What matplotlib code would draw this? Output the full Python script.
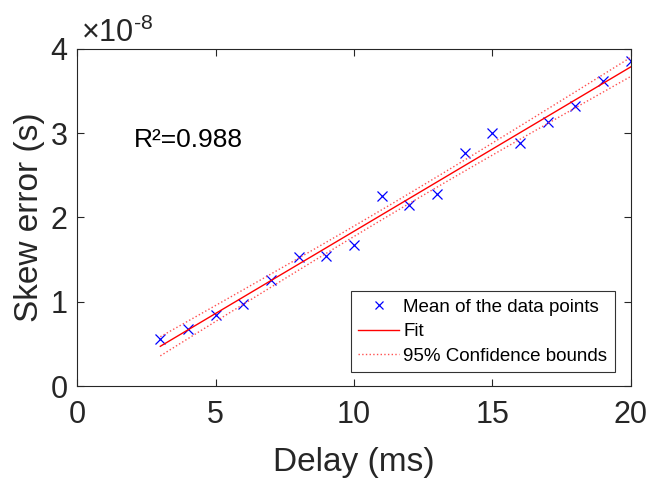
import numpy as np
import matplotlib
matplotlib.use("Agg")
import matplotlib.pyplot as plt
from matplotlib.ticker import FuncFormatter

plt.rcParams['font.family'] = ['Liberation Sans', 'DejaVu Sans']
plt.rcParams['mathtext.fontset'] = 'custom'
plt.rcParams['mathtext.rm'] = 'Liberation Sans'
plt.rcParams['mathtext.it'] = 'Liberation Sans'

delay_ms = [3, 4, 5, 6, 7, 8, 9, 10, 11, 12, 13, 14, 15, 16, 17, 18, 19, 20]
skew_s = [0.558e-8, 0.677e-8, 0.843e-8, 0.973e-8, 1.258e-8, 1.531e-8, 1.543e-8,
          1.674e-8, 2.255e-8, 2.148e-8, 2.279e-8, 2.766e-8, 3.003e-8, 2.884e-8,
          3.134e-8, 3.323e-8, 3.620e-8, 3.858e-8]
r2_label = "R²=0.988"
x_ticks = [0, 5, 10, 15, 20]
y_ticks = [0, 1e-8, 2e-8, 3e-8, 4e-8]

x = np.array(delay_ms, dtype=float)
y = np.array(skew_s)

# linear fit and 95% confidence bounds of the fitted line
p = np.polyfit(x, y, 1)
n = len(x)
yhat = np.polyval(p, x)
s = np.sqrt(np.sum((y - yhat) ** 2) / (n - 2))
t_crit = 2.120  # t(0.975, 16)
xf = np.linspace(x.min(), x.max(), 100)
yf = np.polyval(p, xf)
se = s * np.sqrt(1.0 / n + (xf - x.mean()) ** 2 / np.sum((x - x.mean()) ** 2))
lo = yf - t_crit * se
hi = yf + t_crit * se

fig = plt.figure(figsize=(6.55, 4.83), dpi=100)
ax = fig.add_axes([0.118, 0.2008, 0.845, 0.6978])

ax.plot(x, y, 'x', color='blue', markersize=7, markeredgewidth=0.9,
        label='Mean of the data points')
ax.plot(xf, yf, '-', color='red', linewidth=1.0, label='Fit')
ax.plot(xf, lo, ':', color='#ff5050', linewidth=1.0,
        label='95% Confidence bounds')
ax.plot(xf, hi, ':', color='#ff5050', linewidth=1.0)

ax.set_xlim(0, 20)
ax.set_ylim(0, 4e-8)
ax.set_xticks(x_ticks)
ax.set_yticks(y_ticks)
ax.yaxis.set_major_formatter(FuncFormatter(lambda v, pos: f"{v/1e-8:g}"))
ax.tick_params(direction='in', top=True, right=True, length=5, width=0.8,
               labelsize=22, colors='#262626')
ax.tick_params(axis='x', pad=10)
ax.tick_params(axis='y', pad=7)
for sp in ax.spines.values():
    sp.set_linewidth(0.8)
    sp.set_color('#262626')

ax.set_xlabel('Delay (ms)', fontsize=24, color='#262626', labelpad=12)
ax.set_ylabel('Skew error (s)', fontsize=24, color='#262626', labelpad=4)

ax.text(0.006, 1.021, r'$\times10^{\text{-8}}$', transform=ax.transAxes,
        fontsize=22, color='#262626', ha='left', va='baseline')

ax.text(2.05, 2.92e-8, r2_label, fontsize=19, color='black', va='center')

leg = ax.legend(loc='lower right', fontsize=13.5, frameon=True, fancybox=False,
                edgecolor='black', borderpad=0.4, handlelength=2.2,
                handletextpad=0.2, labelspacing=0.38, borderaxespad=0,
                markerscale=0.75, bbox_to_anchor=(0.971, 0.0415))
leg.get_frame().set_linewidth(0.8)

fig.savefig('out.png', dpi=100)
